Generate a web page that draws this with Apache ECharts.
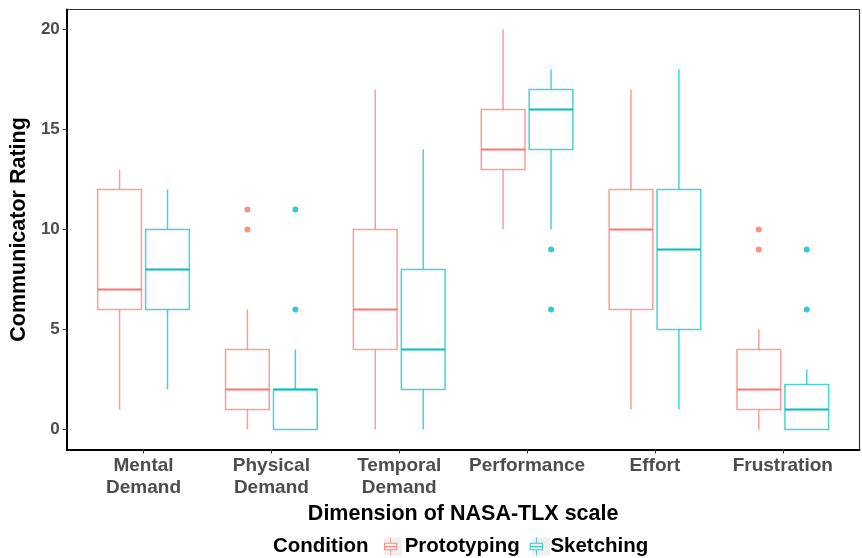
<!DOCTYPE html>
<html>
<head>
<meta charset="utf-8">
<script src="https://cdn.jsdelivr.net/npm/echarts@6/dist/echarts.min.js"></script>
<style>html,body{margin:0;padding:0;background:#fff;}#c{width:862px;height:558px;}</style>
</head>
<body>
<div id="c"></div>
<script>
// ---- data ----
const categories = ['Mental\nDemand', 'Physical\nDemand', 'Temporal\nDemand', 'Performance', 'Effort', 'Frustration'];
// [min, q1, median, q3, max] per category
const prototypingStats = [[1, 6, 7, 12, 13], [0, 1, 2, 4, 6], [0, 4, 6, 10, 17], [10, 13, 14, 16, 20], [1, 6, 10, 12, 17], [0, 1, 2, 4, 5]];
const sketchingStats = [[2, 6, 8, 10, 12], [0, 0, 2, 2, 4], [0, 2, 4, 8, 14], [10, 14, 16, 17, 18], [1, 5, 9, 12, 18], [0, 0, 1, 2.25, 3]];
// [categoryIndex, value]
const prototypingOutliers = [[1, 10], [1, 11], [5, 9], [5, 10]];
const sketchingOutliers = [[1, 6], [1, 11], [3, 6], [3, 9], [5, 6], [5, 9]];
const yTicks = [0, 5, 10, 15, 20];
const seriesNames = ['Prototyping', 'Sketching'];

const COLORS = ['#F8766D', '#00BFC4'];
const DODGE = 0.1875;
const HALF_W = 0.171;
const FONT = '"Liberation Sans", Arial, sans-serif';
const catPos = categories.map((c, i) => i + 1);

function boxData(stats, off) {
  return stats.map((s, i) => [catPos[i] + off].concat(s));
}
function outData(list, off) {
  return list.map(o => [catPos[o[0]] + off, o[1]]);
}

function renderBox(params, api) {
  const x = api.value(0);
  const pMin = api.coord([x, api.value(1)]);
  const pQ1 = api.coord([x, api.value(2)]);
  const pMed = api.coord([x, api.value(3)]);
  const pQ3 = api.coord([x, api.value(4)]);
  const pMax = api.coord([x, api.value(5)]);
  const hw = api.size([HALF_W, 0])[0];
  const color = api.visual('color');
  const px = pMed[0];
  const thin = { stroke: color, lineWidth: 1.5, opacity: 0.7 };
  return {
    type: 'group',
    children: [
      { type: 'line', shape: { x1: px, y1: pMax[1], x2: px, y2: pQ3[1] }, style: Object.assign({}, thin) },
      { type: 'line', shape: { x1: px, y1: pQ1[1], x2: px, y2: pMin[1] }, style: Object.assign({}, thin) },
      { type: 'rect', shape: { x: px - hw, y: pQ3[1], width: 2 * hw, height: pQ1[1] - pQ3[1] }, style: Object.assign({ fill: 'none' }, thin) },
      { type: 'line', shape: { x1: px - hw, y1: pMed[1], x2: px + hw, y2: pMed[1] }, style: { stroke: color, lineWidth: 2.2 } }
    ]
  };
}

const legendIcon = 'path://M6.1 0H6.9V5H6.1Z M0 5H13V12.5H0Z M1 6V11.5H12V6Z M1 8.2H12V9.4H1Z M6.1 12.5H6.9V17.5H6.1Z';
const legendBase = {
  left: 379, top: 531,
  itemWidth: 18, itemHeight: 18, itemGap: 10,
  selectedMode: false
};

const chart = echarts.init(document.getElementById('c'), null, { renderer: 'canvas' });
chart.setOption({
  animation: false,
  backgroundColor: '#fff',
  textStyle: { fontFamily: FONT },
  title: {
    text: 'Condition', left: 268, top: 531,
    textStyle: { fontFamily: FONT, fontSize: 20.5, fontWeight: 'bold', color: '#000' }
  },
  legend: [
    Object.assign({}, legendBase, {
      z: 1,
      data: seriesNames.map(n => ({ name: n, icon: 'rect' })),
      itemStyle: { color: '#EFEFEF', borderWidth: 0 },
      textStyle: { fontFamily: FONT, fontSize: 20.5, fontWeight: 'bold', color: 'rgba(0,0,0,0)' }
    }),
    Object.assign({}, legendBase, {
      z: 3,
      data: seriesNames.map(n => ({ name: n, icon: legendIcon })),
      itemStyle: { borderWidth: 0, opacity: 0.8 },
      textStyle: { fontFamily: FONT, fontSize: 20.5, fontWeight: 'bold', color: '#000' }
    })
  ],
  grid: {
    left: 62.5, right: 2.5, top: 9.5, bottom: 108.5,
    show: true, borderColor: '#333', borderWidth: 1.2, backgroundColor: 'transparent'
  },
  xAxis: {
    type: 'value', min: 0.4, max: 6.6,
    name: 'Dimension of NASA-TLX scale', nameLocation: 'middle', nameGap: 50,
    nameTextStyle: { fontFamily: FONT, fontSize: 21.5, fontWeight: 'bold', color: '#000' },
    splitLine: { show: false },
    axisLine: { show: true, onZero: false, lineStyle: { color: '#000', width: 2 } },
    axisTick: { show: true, customValues: catPos, length: 4, lineStyle: { color: '#333', width: 1 } },
    axisLabel: {
      customValues: catPos, margin: 5,
      formatter: v => categories[Math.round(v) - 1],
      fontFamily: FONT, fontSize: 19, fontWeight: 'bold', color: '#4D4D4D', lineHeight: 22
    }
  },
  yAxis: {
    type: 'value', min: -1, max: 21,
    name: 'Communicator Rating', nameLocation: 'middle', nameGap: 28,
    nameTextStyle: { fontFamily: FONT, fontSize: 21.5, fontWeight: 'bold', color: '#000' },
    splitLine: { show: false },
    axisLine: { show: true, onZero: false, lineStyle: { color: '#000', width: 2 } },
    axisTick: { show: true, customValues: yTicks, length: 4, lineStyle: { color: '#333', width: 1 } },
    axisLabel: {
      customValues: yTicks, margin: 7,
      fontFamily: FONT, fontSize: 17, fontWeight: 'bold', color: '#4D4D4D'
    }
  },
  series: [
    {
      name: seriesNames[0], type: 'custom', renderItem: renderBox,
      itemStyle: { color: COLORS[0] },
      encode: { x: 0, y: [1, 2, 3, 4, 5] },
      data: boxData(prototypingStats, -DODGE)
    },
    {
      name: seriesNames[1], type: 'custom', renderItem: renderBox,
      itemStyle: { color: COLORS[1] },
      encode: { x: 0, y: [1, 2, 3, 4, 5] },
      data: boxData(sketchingStats, DODGE)
    },
    {
      name: seriesNames[0], type: 'scatter', symbolSize: 6,
      itemStyle: { color: COLORS[0] },
      data: outData(prototypingOutliers, -DODGE)
    },
    {
      name: seriesNames[1], type: 'scatter', symbolSize: 6,
      itemStyle: { color: COLORS[1] },
      data: outData(sketchingOutliers, DODGE)
    }
  ]
});
</script>
</body>
</html>
